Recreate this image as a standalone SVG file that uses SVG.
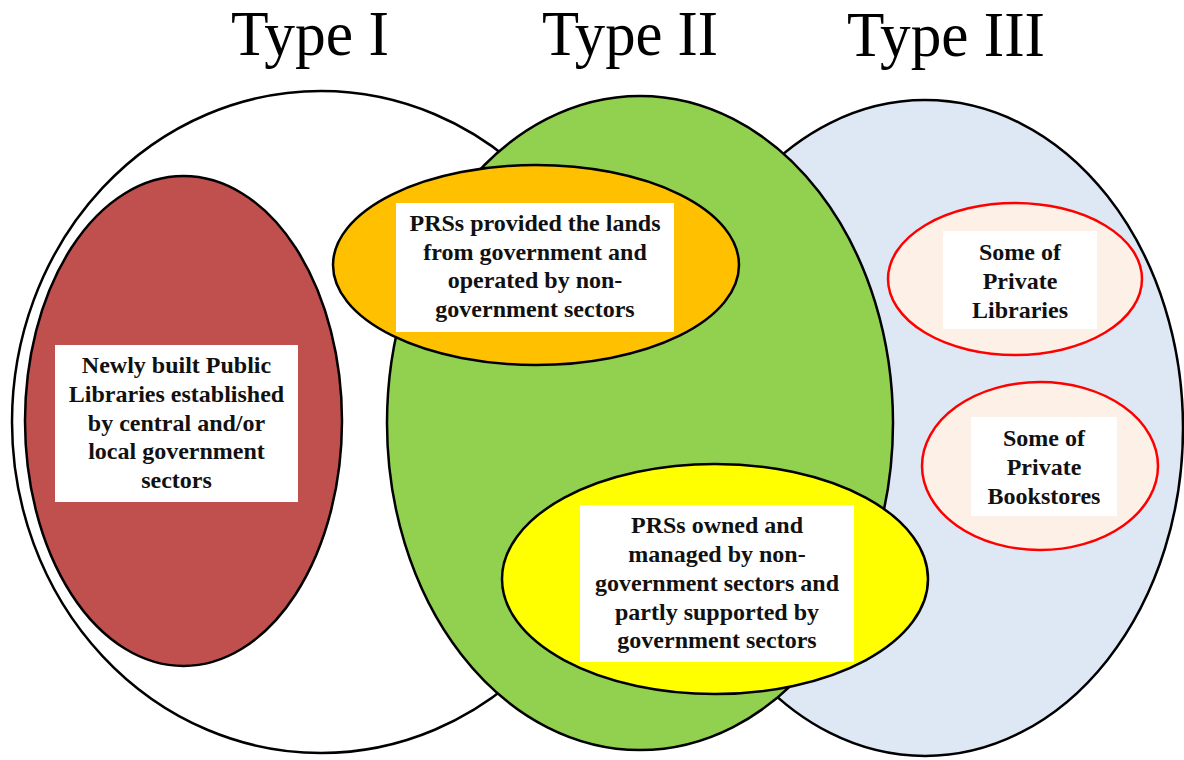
<svg xmlns="http://www.w3.org/2000/svg" width="1184" height="760" viewBox="0 0 1184 760">
<style>
.title{font-family:"Liberation Serif","Times New Roman",serif;font-size:63px;fill:#000;text-anchor:middle}
.lbl{font-family:"Liberation Serif","Times New Roman",serif;font-size:24px;font-weight:bold;fill:#111;text-anchor:middle}
.ol{stroke:#000;stroke-width:2.5}
.rd{stroke:#ff0000;stroke-width:2.5;fill:#fdf0e6}
.box{fill:#fff}
</style>
<rect width="1184" height="760" fill="#fff"/>
<g id="titles">
<text class="title" x="310" y="55" textLength="158" lengthAdjust="spacingAndGlyphs">Type I</text>
<text class="title" x="630" y="55" textLength="176" lengthAdjust="spacingAndGlyphs">Type II</text>
<text class="title" x="946" y="56" textLength="198" lengthAdjust="spacingAndGlyphs">Type III</text>
</g>
<g id="type1">
<ellipse class="ol" cx="321" cy="422" rx="309" ry="331" fill="#fff"/>
</g>
<g id="type3">
<ellipse class="ol" cx="925" cy="428" rx="258" ry="328" fill="#dee8f5"/>
</g>
<g id="type2">
<ellipse class="ol" cx="640" cy="423" rx="253" ry="327" fill="#92d050"/>
</g>
<g id="public-libraries">
<ellipse class="ol" cx="183.5" cy="421" rx="158.5" ry="245" fill="#c0504d"/>
<rect class="box" x="55" y="345" width="243" height="157"/>
<text class="lbl" x="176.5" y="373">Newly built Public</text>
<text class="lbl" x="176.5" y="402">Libraries established</text>
<text class="lbl" x="176.5" y="431">by central and/or</text>
<text class="lbl" x="176.5" y="459">local government</text>
<text class="lbl" x="176.5" y="488">sectors</text>
</g>
<g id="prs-lands">
<ellipse class="ol" cx="536" cy="265" rx="203" ry="100" fill="#ffc000"/>
<rect class="box" x="396" y="203" width="278" height="129"/>
<text class="lbl" x="535" y="231">PRSs provided the lands</text>
<text class="lbl" x="535" y="260">from government and</text>
<text class="lbl" x="535" y="288">operated by non-</text>
<text class="lbl" x="535" y="317">government sectors</text>
</g>
<g id="prs-owned">
<ellipse class="ol" cx="715" cy="579" rx="213" ry="115" fill="#ffff00"/>
<rect class="box" x="580" y="505" width="274" height="157"/>
<text class="lbl" x="717" y="533">PRSs owned and</text>
<text class="lbl" x="717" y="562">managed by non-</text>
<text class="lbl" x="717" y="591">government sectors and</text>
<text class="lbl" x="717" y="620">partly supported by</text>
<text class="lbl" x="717" y="648">government sectors</text>
</g>
<g id="private-libraries">
<ellipse class="rd" cx="1015" cy="279" rx="127" ry="76"/>
<rect class="box" x="943" y="231" width="154" height="98"/>
<text class="lbl" x="1020" y="260">Some of</text>
<text class="lbl" x="1020" y="289">Private</text>
<text class="lbl" x="1020" y="318">Libraries</text>
</g>
<g id="private-bookstores">
<ellipse class="rd" cx="1040" cy="466" rx="118" ry="84"/>
<rect class="box" x="971" y="417" width="146" height="99"/>
<text class="lbl" x="1044" y="446">Some of</text>
<text class="lbl" x="1044" y="475">Private</text>
<text class="lbl" x="1044" y="504">Bookstores</text>
</g>
</svg>
